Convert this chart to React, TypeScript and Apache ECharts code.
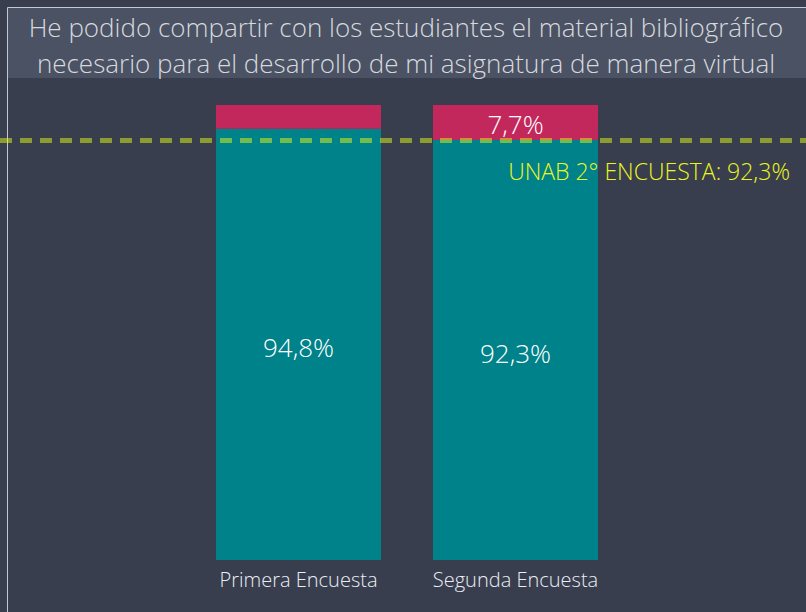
import React, { useEffect, useRef } from "react";
import * as echarts from "echarts";

const titleLines = [
  "He podido compartir con los estudiantes el material bibliográfico",
  "necesario para el desarrollo de mi asignatura de manera virtual",
];
const categories = ["Primera Encuesta", "Segunda Encuesta"];
const siValues = [94.8, 92.3];
const noValues = [5.2, 7.7];
const noLabelShown = [false, true];
const unabValue = 92.3;
const unabLabel = "UNAB 2° ENCUESTA: 92,3%";

const fmt = (v: number) => v.toFixed(1).replace(".", ",") + "%";

export default function App() {
  const ref = useRef<HTMLDivElement>(null);
  useEffect(() => {
    if (!ref.current) return;
    const chart = echarts.init(ref.current, undefined, { renderer: "svg" });
    const font = "'Open Sans', 'Noto Sans', sans-serif";
    chart.setOption({
      animation: false,
      backgroundColor: "#393e4f",
      textStyle: { fontFamily: font },
      graphic: [
        {
          type: "rect",
          shape: { x: 8, y: 8, width: 798, height: 70 },
          style: { fill: "#4b5264" },
          z: 0,
        },
        {
          type: "line",
          shape: { x1: 7.5, y1: 7.5, x2: 806, y2: 7.5 },
          style: { stroke: "#c4c8cf", lineWidth: 1 },
        },
        {
          type: "line",
          shape: { x1: 7.5, y1: 7.5, x2: 7.5, y2: 612 },
          style: { stroke: "#c4c8cf", lineWidth: 1 },
        },
        {
          type: "text",
          x: 406,
          y: 27,
          style: {
            text: titleLines[0],
            fill: "#d6d9de",
            font: `300 26px ${font}`,
            textAlign: "center",
            textVerticalAlign: "middle",
          },
        },
        {
          type: "text",
          x: 406,
          y: 63,
          style: {
            text: titleLines[1],
            fill: "#d6d9de",
            font: `300 26px ${font}`,
            textAlign: "center",
            textVerticalAlign: "middle",
          },
        },
      ],
      grid: [
        { left: 190, right: 182, top: 105, bottom: 52 },
        { left: 0, right: 0, top: 105, bottom: 52 },
      ],
      xAxis: [
        {
          type: "category",
          gridIndex: 0,
          data: categories,
          axisLine: { show: false },
          axisTick: { show: false },
          axisLabel: { color: "#eaeef4", fontSize: 20, fontWeight: 300, margin: 9, fontFamily: font },
        },
        { type: "value", gridIndex: 1, min: 0, max: 1, show: false },
      ],
      yAxis: [
        { type: "value", gridIndex: 0, min: 0, max: 100, show: false },
        { type: "value", gridIndex: 1, min: 0, max: 100, show: false },
      ],
      series: [
        {
          type: "bar",
          stack: "a",
          barWidth: 165,
          data: siValues,
          itemStyle: { color: "#00828a" },
          label: {
            show: true,
            position: "inside",
            formatter: (p: any) => fmt(p.value),
            color: "#ffffff",
            fontSize: 26,
            fontWeight: 300,
            fontFamily: font,
            offset: [0, 3],
          },
        },
        {
          type: "bar",
          stack: "a",
          barWidth: 165,
          data: noValues.map((v, i) => ({
            value: v,
            label: { show: noLabelShown[i] },
          })),
          itemStyle: { color: "#c2285c" },
          label: {
            show: true,
            position: "inside",
            formatter: (p: any) => fmt(p.value),
            color: "#ffffff",
            fontSize: 26,
            fontWeight: 300,
            fontFamily: font,
            offset: [0, 1],
          },
        },
        {
          type: "line",
          xAxisIndex: 1,
          yAxisIndex: 1,
          data: [],
          markLine: {
            silent: true,
            symbol: "none",
            lineStyle: { type: [12, 8], width: 5, color: "rgba(225,250,20,0.5)" },
            label: {
              show: true,
              position: "insideEndBottom",
              formatter: unabLabel,
              color: "#ecf71e",
              fontSize: 23,
              fontWeight: 300,
              fontFamily: font,
              distance: [16, 19],
            },
            data: [{ yAxis: unabValue }],
          },
        },
      ],
    });
    return () => chart.dispose();
  }, []);
  return (
    <div
      ref={ref}
      style={{ position: "fixed", left: 0, top: 0, width: 806, height: 612 }}
    />
  );
}
